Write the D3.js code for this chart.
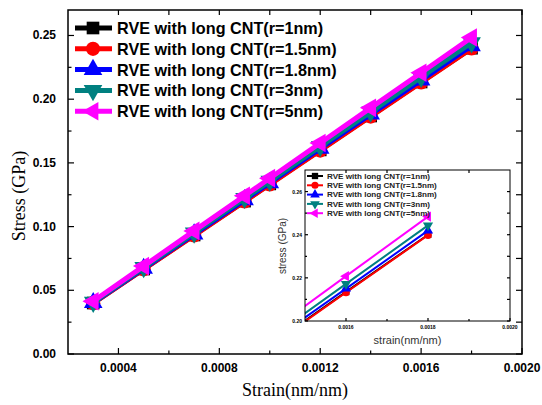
<!DOCTYPE html>
<html>
<head>
<meta charset="utf-8">
<title>Stress-strain RVE</title>
<style>
  body { margin: 0; background: #fff; }
  svg { display: block; }
  text { font-family: "Liberation Sans", Arial, sans-serif; }
</style>
</head>
<body>
<svg id="chart" width="542" height="405"></svg>
<script src="https://cdnjs.cloudflare.com/ajax/libs/d3/7.8.5/d3.min.js"></script>
<script>
// data
var strain = [0.0003, 0.0005, 0.0007, 0.0009, 0.0010, 0.0012, 0.0014, 0.0016, 0.0018];
var seriesNames = ["RVE with long CNT(r=1nm)", "RVE with long CNT(r=1.5nm)", "RVE with long CNT(r=1.8nm)",
                   "RVE with long CNT(r=3nm)", "RVE with long CNT(r=5nm)"];
var stressR1  = [0.0400, 0.0667, 0.0934, 0.1200, 0.1335, 0.1602, 0.1868, 0.2135, 0.2400];
var stressR15 = [0.0399, 0.0665, 0.0931, 0.1198, 0.1331, 0.1597, 0.1864, 0.2132, 0.2398];
var stressR18 = [0.0403, 0.0672, 0.0941, 0.1210, 0.1344, 0.1613, 0.1882, 0.2150, 0.2419];
var stressR3  = [0.0407, 0.0679, 0.0950, 0.1222, 0.1357, 0.1629, 0.1900, 0.2172, 0.2443];
var stressR5  = [0.0414, 0.0690, 0.0966, 0.1242, 0.1380, 0.1656, 0.1932, 0.2208, 0.2484];
var xTicks = [0.0004, 0.0008, 0.0012, 0.0016, 0.0020];
var yTicks = [0.00, 0.05, 0.10, 0.15, 0.20, 0.25];
var insetXTicks = [0.0016, 0.0018, 0.0020];
var insetYTicks = [0.20, 0.22, 0.24, 0.26];

var colors = ["#000000", "#ff0000", "#0000ff", "#008080", "#ff00ff"];
var shapes = [d3.symbolSquare, d3.symbolCircle, d3.symbolTriangle, d3.symbolTriangle, d3.symbolTriangle];
var rotations = [0, 0, 0, 180, -90];

var series = [stressR1, stressR15, stressR18, stressR3, stressR5].map(function(v, i) {
  return { name: seriesNames[i], color: colors[i], shape: shapes[i], rot: rotations[i],
           values: v.map(function(s, j) { return { x: strain[j], y: s }; }) };
});

var svg = d3.select("#chart");

// main plot
var L = 68, R = 522, T = 10, B = 354;
var x = d3.scaleLinear().domain([0.0002, 0.0020]).range([L, R]);
var y = d3.scaleLinear().domain([0, 0.27]).range([B, T]);

function drawTicks(g, scale, vals, orient, pos, len) {
  vals.forEach(function(v) {
    var p = scale(v);
    var l = g.append("line").attr("stroke", "#000").attr("stroke-width", 1.2);
    if (orient === "bottom") l.attr("x1", p).attr("x2", p).attr("y1", pos).attr("y2", pos - len);
    if (orient === "top") l.attr("x1", p).attr("x2", p).attr("y1", pos).attr("y2", pos + len);
    if (orient === "left") l.attr("y1", p).attr("y2", p).attr("x1", pos).attr("x2", pos + len);
    if (orient === "right") l.attr("y1", p).attr("y2", p).attr("x1", pos).attr("x2", pos - len);
  });
}

var axes = svg.append("g");
var xMinor = d3.range(0.0004, 0.00201, 0.0002).map(function(d) { return +d.toFixed(4); });
var yMinor = d3.range(0.025, 0.27, 0.05).map(function(d) { return +d.toFixed(3); });
drawTicks(axes, x, xTicks, "bottom", B, 6);
drawTicks(axes, x, xMinor.filter(function(d) { return xTicks.indexOf(d) < 0; }), "bottom", B, 3.5);
drawTicks(axes, x, xMinor, "top", T, 5);
drawTicks(axes, y, yTicks, "left", L, 6);
drawTicks(axes, y, yMinor, "left", L, 3.5);
drawTicks(axes, y, yTicks.concat(yMinor), "right", R, 6);

axes.append("rect").attr("x", L).attr("y", T).attr("width", R - L).attr("height", B - T)
  .attr("fill", "none").attr("stroke", "#000").attr("stroke-width", 1.5);

axes.selectAll(".xl").data(xTicks).enter().append("text")
  .attr("x", function(d) { return x(d); }).attr("y", B + 18)
  .attr("text-anchor", "middle").attr("font-size", 12).attr("font-weight", "bold")
  .text(function(d) { return d3.format(".4f")(d); });
axes.selectAll(".yl").data(yTicks).enter().append("text")
  .attr("x", L - 12).attr("y", function(d) { return y(d) + 4; })
  .attr("text-anchor", "end").attr("font-size", 12).attr("font-weight", "bold")
  .text(function(d) { return d3.format(".2f")(d); });

svg.append("text").attr("x", (L + R) / 2).attr("y", 396).attr("text-anchor", "middle")
  .style("font-family", "'Liberation Serif', 'Times New Roman', serif").attr("font-size", 18)
  .text("Strain(nm/nm)");
svg.append("text").attr("transform", "translate(25,196) rotate(-90)").attr("text-anchor", "middle")
  .style("font-family", "'Liberation Serif', 'Times New Roman', serif").attr("font-size", 18)
  .text("Stress (GPa)");

function symbolPath(s, size) {
  return d3.symbol().type(s.shape).size(size)();
}

var line = d3.line().x(function(d) { return x(d.x); }).y(function(d) { return y(d.y); });
var plot = svg.append("g");
series.forEach(function(s) {
  plot.append("path").attr("d", line(s.values)).attr("fill", "none")
    .attr("stroke", s.color).attr("stroke-width", 5);
  plot.selectAll(null).data(s.values).enter().append("path")
    .attr("d", symbolPath(s, s.shape === d3.symbolTriangle ? 150 : 160))
    .attr("transform", function(d) { return "translate(" + x(d.x) + "," + y(d.y) + ") rotate(" + s.rot + ")"; })
    .attr("fill", s.color);
});

// main legend
var leg = svg.append("g");
series.forEach(function(s, i) {
  var yy = 28 + i * 20.8;
  leg.append("line").attr("x1", 75).attr("x2", 112).attr("y1", yy).attr("y2", yy)
    .attr("stroke", s.color).attr("stroke-width", 5);
  leg.append("path").attr("d", symbolPath(s, s.shape === d3.symbolTriangle ? 150 : 160))
    .attr("transform", "translate(93," + yy + ") rotate(" + s.rot + ")").attr("fill", s.color);
  leg.append("text").attr("x", 117).attr("y", yy + 6).attr("font-size", 16.2).attr("font-weight", "bold")
    .text(s.name);
});

// inset
var iL = 305, iR = 510, iT = 170, iB = 321;
var ix = d3.scaleLinear().domain([0.0015, 0.0020]).range([iL, iR]);
var iy = d3.scaleLinear().domain([0.20, 0.27]).range([iB, iT]);
var inset = svg.append("g");
inset.append("rect").attr("x", iL).attr("y", iT).attr("width", iR - iL).attr("height", iB - iT).attr("fill", "#fff");
svg.append("clipPath").attr("id", "iclip").append("rect")
  .attr("x", iL).attr("y", iT).attr("width", iR - iL).attr("height", iB - iT);

var iline = d3.line().x(function(d) { return ix(d.x); }).y(function(d) { return iy(d.y); });
var iplot = inset.append("g").attr("clip-path", "url(#iclip)");
series.forEach(function(s) {
  iplot.append("path").attr("d", iline(s.values)).attr("fill", "none")
    .attr("stroke", s.color).attr("stroke-width", 2);
  iplot.selectAll(null).data(s.values).enter().append("path")
    .attr("d", symbolPath(s, 45))
    .attr("transform", function(d) { return "translate(" + ix(d.x) + "," + iy(d.y) + ") rotate(" + s.rot + ")"; })
    .attr("fill", s.color);
});

var iMinorY = [0.21, 0.23, 0.25];
drawTicks(inset, ix, insetXTicks, "bottom", iB, 3);
drawTicks(inset, ix, [0.0017, 0.0019], "bottom", iB, 2);
drawTicks(inset, ix, [0.0016, 0.0017, 0.0018, 0.0019], "top", iT, 3);
drawTicks(inset, iy, insetYTicks, "left", iL, 3);
drawTicks(inset, iy, iMinorY, "left", iL, 2);
drawTicks(inset, iy, insetYTicks.concat(iMinorY), "right", iR, 3);
inset.append("rect").attr("x", iL).attr("y", iT).attr("width", iR - iL).attr("height", iB - iT)
  .attr("fill", "none").attr("stroke", "#000").attr("stroke-width", 1);

inset.selectAll(".ixl").data(insetXTicks).enter().append("text")
  .attr("x", function(d) { return ix(d); }).attr("y", iB + 8)
  .attr("text-anchor", "middle").attr("font-size", 5).attr("font-weight", "bold")
  .text(function(d) { return d3.format(".4f")(d); });
inset.selectAll(".iyl").data(insetYTicks).enter().append("text")
  .attr("x", iL - 3).attr("y", function(d) { return iy(d) + 2; })
  .attr("text-anchor", "end").attr("font-size", 5).attr("font-weight", "bold")
  .text(function(d) { return d3.format(".2f")(d); });
inset.append("text").attr("x", (iL + iR) / 2).attr("y", 344).attr("text-anchor", "middle")
  .attr("font-size", 11).attr("fill", "#333").text("strain(nm/nm)");
inset.append("text").attr("transform", "translate(286,246) rotate(-90)").attr("text-anchor", "middle")
  .attr("font-size", 10).attr("fill", "#333").text("stress (GPa)");

series.forEach(function(s, i) {
  var yy = 176 + i * 9.3;
  inset.append("line").attr("x1", 307).attr("x2", 323).attr("y1", yy).attr("y2", yy)
    .attr("stroke", s.color).attr("stroke-width", 2);
  inset.append("path").attr("d", symbolPath(s, 40))
    .attr("transform", "translate(315," + yy + ") rotate(" + s.rot + ")").attr("fill", s.color);
  inset.append("text").attr("x", 327).attr("y", yy + 2.8).attr("font-size", 8.1).attr("font-weight", "bold")
    .attr("fill", "#222").text(s.name);
});
</script>
</body>
</html>
